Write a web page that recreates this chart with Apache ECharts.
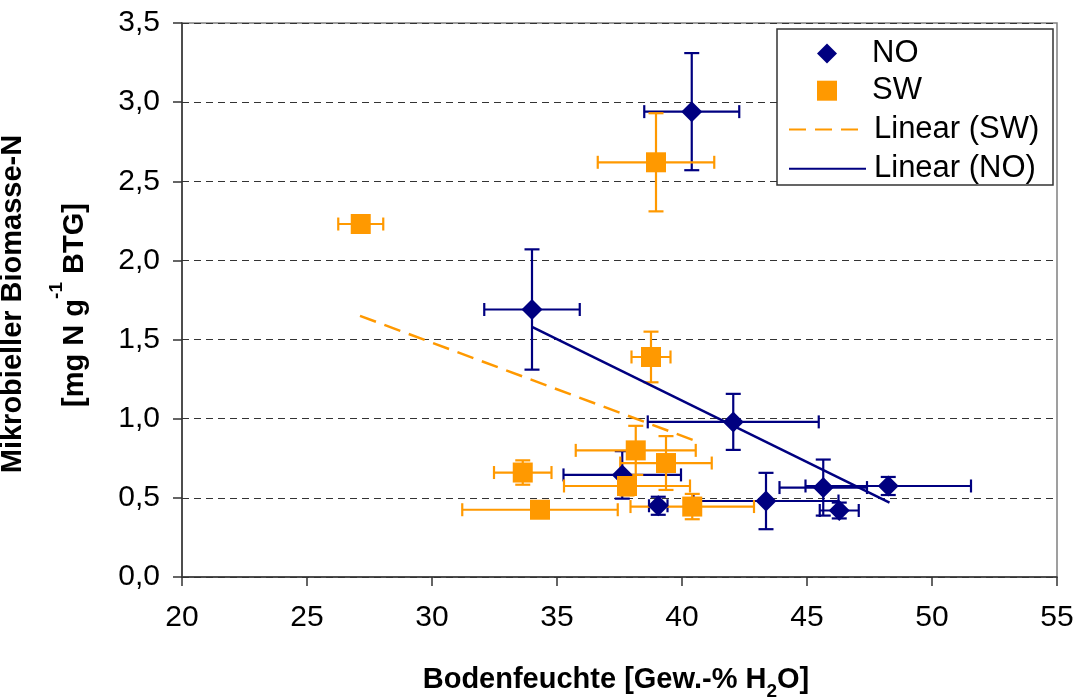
<!DOCTYPE html>
<html>
<head>
<meta charset="utf-8">
<script src="https://cdn.jsdelivr.net/npm/echarts@6/dist/echarts.min.js"></script>
<style>
html,body{margin:0;padding:0;background:#fff;}
#chart{width:1079px;height:698px;}
</style>
</head>
<body>
<div id="chart"></div>
<script>
// ---- data ----
// NO series: soil moisture (x), biomass N (y), x error, y error
var noX    = [40.39, 34.00, 42.05, 37.61, 39.05, 43.36, 45.65, 48.25, 46.29];
var noY    = [2.94, 1.69, 0.98, 0.645, 0.45, 0.48, 0.565, 0.575, 0.42];
var noXErr = [1.90, 1.91, 3.42, 2.35, 0.37, 2.90, 1.75, 3.31, 0.78];
var noYErr = [0.37, 0.38, 0.177, 0.15, 0.057, 0.178, 0.177, 0.057, 0.05];
// SW series
var swX    = [27.15, 38.96, 38.76, 38.15, 39.36, 33.63, 37.80, 34.32, 40.41];
var swY    = [2.23, 2.62, 1.39, 0.80, 0.72, 0.66, 0.575, 0.425, 0.445];
var swXErr = [0.90, 2.33, 0.78, 2.40, 1.83, 1.15, 2.52, 3.11, 2.47];
var swYErr = [0.03, 0.31, 0.16, 0.155, 0.17, 0.077, 0.06, 0.03, 0.08];
// linear trend lines (end points)
var trendSWX = [27.12, 40.45];
var trendSWY = [1.65, 0.865];
var trendNOX = [34.00, 48.30];
var trendNOY = [1.58, 0.47];
// tick labels
var xTickLabels = ['20', '25', '30', '35', '40', '45', '50', '55'];
var yTickLabels = ['0,0', '0,5', '1,0', '1,5', '2,0', '2,5', '3,0', '3,5'];
var markerNames = ['NO', 'SW'];
var trendNames = ['Linear (SW)', 'Linear (NO)'];

var NAVY = '#000080';
var ORANGE = '#FF9900';
var FONT = '"Liberation Sans", Arial, sans-serif';

function zip(a, b) { return a.map(function (v, i) { return [v, b[i]]; }); }
function zip4(a, b, c, d) { return a.map(function (v, i) { return [v, b[i], c[i], d[i]]; }); }

function errRender(color) {
  return function (params, api) {
    var x = api.value(0), y = api.value(1), ex = api.value(2), ey = api.value(3);
    var l = api.coord([x - ex, y]), r = api.coord([x + ex, y]);
    var t = api.coord([x, y + ey]), b = api.coord([x, y - ey]);
    var st = { stroke: color, lineWidth: 2.2 };
    var cx = 6.5, cy = 7.5;
    function ln(x1, y1, x2, y2) {
      return { type: 'line', shape: { x1: x1, y1: y1, x2: x2, y2: y2 }, style: st };
    }
    return {
      type: 'group',
      children: [
        ln(l[0], l[1], r[0], r[1]),
        ln(t[0], t[1], b[0], b[1]),
        ln(l[0], l[1] - cx, l[0], l[1] + cx),
        ln(r[0], r[1] - cx, r[0], r[1] + cx),
        ln(t[0] - cy, t[1], t[0] + cy, t[1]),
        ln(b[0] - cy, b[1], b[0] + cy, b[1])
      ]
    };
  };
}

var legendText = { fontSize: 31, color: '#000', fontFamily: FONT };

var chart = echarts.init(document.getElementById('chart'), null, { renderer: 'canvas' });
chart.setOption({
  animation: false,
  backgroundColor: '#fff',
  textStyle: { fontFamily: FONT },
  grid: {
    left: 182, right: 22, top: 23, bottom: 121,
    show: true, borderColor: '#808080', borderWidth: 1.5, backgroundColor: 'transparent'
  },
  xAxis: {
    type: 'value', min: 20, max: 55, interval: 5,
    axisLine: { show: true, onZero: false, lineStyle: { color: '#333', width: 1.5 } },
    axisTick: { show: true, length: 9, lineStyle: { color: '#333', width: 1.5 } },
    axisLabel: {
      margin: 26, fontSize: 30, color: '#000', fontFamily: FONT,
      formatter: function (v) { return xTickLabels[Math.round((v - 20) / 5)]; }
    },
    splitLine: { show: false }
  },
  yAxis: {
    type: 'value', min: 0, max: 3.5, interval: 0.5,
    axisLine: { show: true, onZero: false, lineStyle: { color: '#333', width: 1.5 } },
    axisTick: { show: true, length: 9, lineStyle: { color: '#333', width: 1.5 } },
    axisLabel: {
      margin: 22, fontSize: 30, color: '#000', fontFamily: FONT,
      formatter: function (v) { return yTickLabels[Math.round(v / 0.5)]; }
    },
    splitLine: {
      show: true,
      lineStyle: { color: '#333', width: 1, type: [7, 5] }
    }
  },
  legend: [
    {
      data: markerNames,
      orient: 'vertical',
      left: 817, top: 38,
      itemWidth: 20, itemHeight: 20, itemGap: 6.2,
      padding: 0, z: 6,
      textStyle: Object.assign({ padding: [0, 0, 0, 30] }, legendText),
      selectedMode: false
    },
    {
      data: trendNames.map(function (n) {
        return { name: n, itemStyle: { color: 'rgba(0,0,0,0)', borderColor: 'rgba(0,0,0,0)', borderWidth: 0 } };
      }),
      orient: 'vertical',
      left: 788, top: 114,
      itemWidth: 77, itemHeight: 20, itemGap: 8.2,
      padding: 0, z: 6,
      textStyle: Object.assign({ padding: [0, 0, 0, 3] }, legendText),
      selectedMode: false
    }
  ],
  graphic: [
    {
      type: 'rect', z: 5,
      shape: { x: 777, y: 29, width: 276, height: 156 },
      style: { fill: '#fff', stroke: '#333', lineWidth: 1.5 }
    },
    {
      type: 'text', x: 13, y: 304, rotation: Math.PI / 2,
      style: {
        text: 'Mikrobieller Biomasse-N',
        font: 'bold 29px ' + FONT, fill: '#000',
        align: 'center', verticalAlign: 'middle'
      }
    },
    {
      type: 'text', x: 68, y: 305, rotation: Math.PI / 2,
      style: {
        text: '{a|[mg N g}{s|-1}{a| BTG]}',
        align: 'center', verticalAlign: 'middle',
        rich: {
          a: { font: 'bold 29px ' + FONT, fill: '#000', verticalAlign: 'bottom', lineHeight: 42 },
          s: { font: 'bold 19px ' + FONT, fill: '#000', verticalAlign: 'top', lineHeight: 42 }
        }
      }
    },
    {
      type: 'text', x: 616, y: 683,
      style: {
        text: '{a|Bodenfeuchte [Gew.-% H}{s|2}{a|O]}',
        align: 'center', verticalAlign: 'middle',
        rich: {
          a: { font: 'bold 29px ' + FONT, fill: '#000', verticalAlign: 'top', lineHeight: 36 },
          s: { font: 'bold 19px ' + FONT, fill: '#000', verticalAlign: 'bottom', lineHeight: 36 }
        }
      }
    }
  ],
  series: [
    {
      name: 'NO', type: 'scatter', z: 3,
      symbol: 'diamond', symbolSize: 21,
      itemStyle: { color: NAVY, opacity: 1 },
      data: zip(noX, noY)
    },
    {
      name: 'SW', type: 'scatter', z: 4,
      symbol: 'rect', symbolSize: 20,
      itemStyle: { color: ORANGE, opacity: 1 },
      data: zip(swX, swY)
    },
    {
      name: 'Linear (SW)', type: 'line', z: 5,
      symbol: 'none', showSymbol: false,
      lineStyle: { color: ORANGE, width: 2.5, type: [17, 9] },
      itemStyle: { color: ORANGE },
      data: zip(trendSWX, trendSWY)
    },
    {
      name: 'Linear (NO)', type: 'line', z: 5,
      symbol: 'none', showSymbol: false,
      lineStyle: { color: NAVY, width: 2.5 },
      itemStyle: { color: NAVY },
      data: zip(trendNOX, trendNOY)
    },
    {
      type: 'custom', z: 2,
      renderItem: errRender(NAVY),
      encode: { x: 0, y: 1 },
      data: zip4(noX, noY, noXErr, noYErr)
    },
    {
      type: 'custom', z: 2,
      renderItem: errRender(ORANGE),
      encode: { x: 0, y: 1 },
      data: zip4(swX, swY, swXErr, swYErr)
    }
  ]
});
</script>
</body>
</html>
